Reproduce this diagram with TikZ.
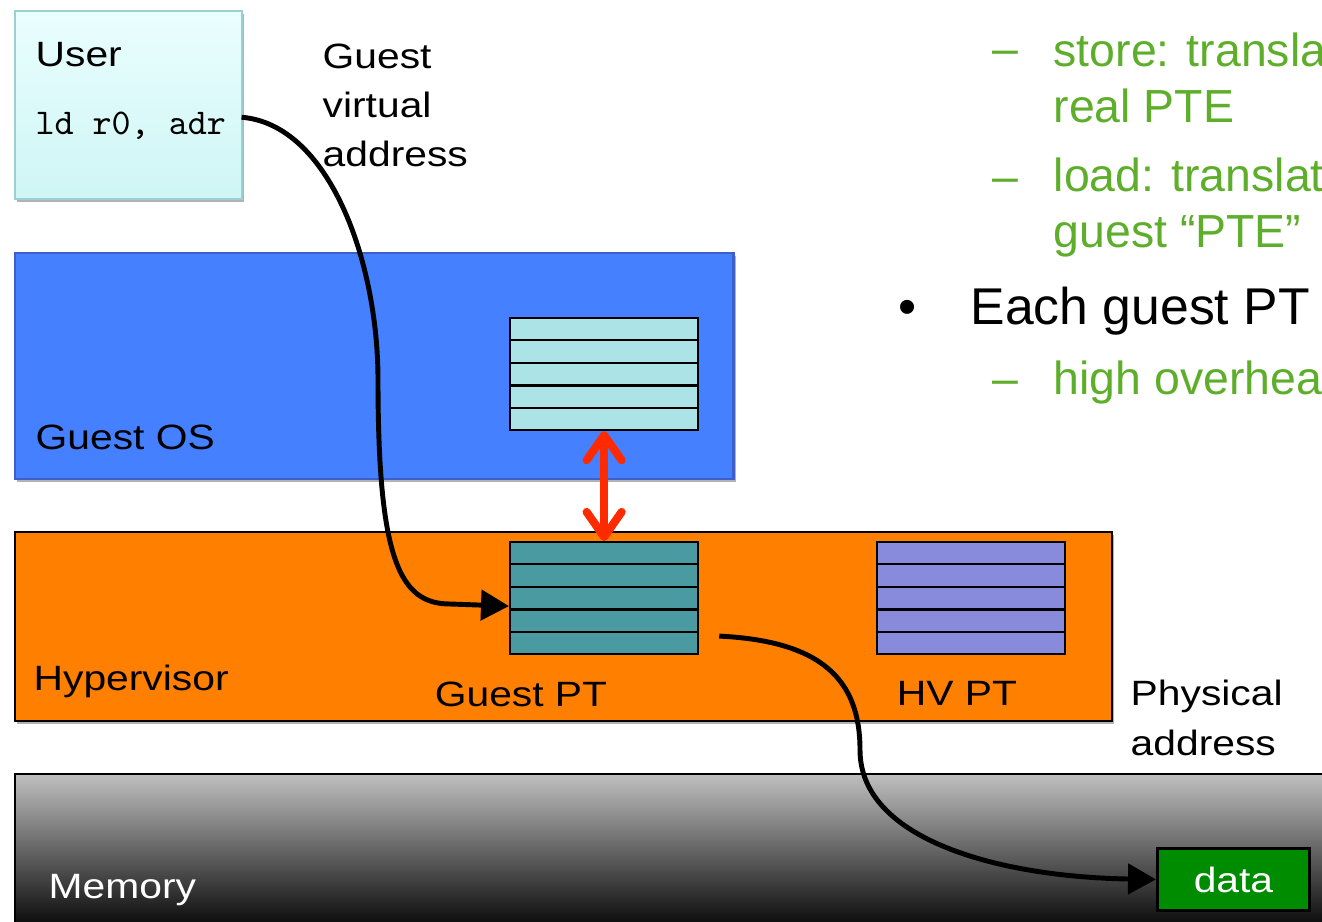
\documentclass[tikz,border=0pt]{standalone}
\usepackage{fontspec}
\setmainfont{Liberation Sans}
\newfontfamily\diagfont{Liberation Sans}[FakeStretch=1.16]
\usetikzlibrary{shapes}
\usetikzlibrary{arrows.meta}
\usetikzlibrary{positioning}
\usetikzlibrary{calc}
\usetikzlibrary{shadows}

\definecolor{usertop}{HTML}{EAFEFE}
\definecolor{userbot}{HTML}{CFF5F5}
\definecolor{userborder}{HTML}{9CCFD0}
\definecolor{osblue}{HTML}{4480FF}
\definecolor{osborder}{HTML}{3F5FC8}
\definecolor{tabcyan}{HTML}{ACE3E6}
\definecolor{tabteal}{HTML}{4A9BA1}
\definecolor{tabpurple}{HTML}{888BDC}
\definecolor{hvorange}{HTML}{FF7F00}
\definecolor{alertred}{HTML}{FF2A00}
\definecolor{datagreen}{HTML}{008C00}
\definecolor{slidegreen}{HTML}{5EAE2B}

\begin{document}
\begin{tikzpicture}[x=0.01cm, y=-0.01cm,
    tier/.style={draw, rectangle, anchor=north west, inner sep=0pt, line width=0.6pt,
                 drop shadow={shadow xshift=0.6pt, shadow yshift=-0.9pt, opacity=0.3, fill=black}},
    ptable/.style={draw, rectangle, anchor=north west, inner sep=0pt, line width=0.6pt,
                   minimum width=1.88cm, minimum height=1.12cm},
    lbl/.style={font=\diagfont\fontsize{10}{14}\selectfont, inner sep=0pt, anchor=base west, align=left},
    bullettext/.style={font=\fontsize{13.2}{16}\selectfont, text=slidegreen, inner sep=0pt,
                       anchor=base west, align=left},
    pathline/.style={line width=1.4pt, -{Triangle[length=2.8mm, width=3mm]}},
    redarrow/.style={draw=alertred, line width=2.3pt, <->,
                     >={Straight Barb[length=2.5mm, width=3.5mm, round]}}]

  \useasboundingbox (0,0) rectangle (1322,922);
  \clip (0,0) rectangle (1322,922);

  % user level
  \node[tier, draw=userborder, top color=usertop, bottom color=userbot,
        minimum width=2.27cm, minimum height=1.88cm] (user) at (14,10) {};
  \node[lbl] (userlbl) at (35,67) {User};
  \node[lbl, font=\ttfamily\fontsize{10.3}{12}\selectfont] (code) at (35,135) {ld r0, adr};
  \node[lbl] (gva) at (322,167) {Guest\\virtual\\address};

  % guest OS
  \node[tier, draw=osborder, fill=osblue, minimum width=7.18cm, minimum height=2.26cm] (guestos) at (14,252) {};
  \node[lbl] (oslbl) at (35,450) {Guest OS};
  \node[ptable, fill=tabcyan] (gvt) at (509,317) {};

  % hypervisor
  \node[tier, fill=hvorange, minimum width=10.96cm, minimum height=1.89cm] (hyper) at (14,531) {};
  \node[lbl] (hvlbl) at (33,690) {Hypervisor};
  \node[ptable, fill=tabteal] (gpt) at (509,541) {};
  \node[ptable, fill=tabpurple] (hvpt) at (876,541) {};
  \node[lbl, anchor=base] (gptlbl) at (521,706) {Guest PT};
  \node[lbl, anchor=base] (hvptlbl) at (957,705) {HV PT};
  \node[lbl] (pa) at (1130,755) {Physical\\address};

  % memory
  \node[tier, top color=black!25, bottom color=black, minimum width=13.3cm, minimum height=1.6cm] (memory) at (14,773) {};
  \node[lbl, text=white] (memlbl) at (48,898) {Memory};
  \node[draw, fill=datagreen, line width=0.8pt, anchor=north west, inner sep=0pt,
        minimum width=1.52cm, minimum height=0.62cm, text=white,
        font=\diagfont\fontsize{10}{12}\selectfont] (data) at (1156,847) {data};

  % table rows
  \foreach \t in {gvt,gpt,hvpt}
    \foreach \i in {1,...,4}
      \draw[line width=0.6pt] ($(\t.north west)!\i/5!(\t.south west)$) -- ($(\t.north east)!\i/5!(\t.south east)$);

  \draw[redarrow] (gvt.south) -- (gpt.north);

  \draw[pathline] ($(code.east)+(15,-9)$) .. controls +(87,7) and (378,260) .. (378,380)
        .. controls (378,560) and (400,604) .. (450,604) -- ($(gpt.west)+(0,8)$);
  \draw[pathline] ($(gpt.east)+(20,38)$) .. controls +(103,5) and (860,680) .. (860,750)
        .. controls (860,840) and (1000,877) .. (data.west);

  % slide text
  \node[bullettext] (d1) at (992,65) {–};
  \node[bullettext] (t1) at (1053,123) {store: transla\\real PTE};
  \node[bullettext] (d2) at (992,193) {–};
  \node[bullettext] (t2) at (1053,248) {load: translat\\guest “PTE”};
  \node[bullettext, text=black, font=\fontsize{14.7}{17}\selectfont] (b3) at (898,325) {•};
  \node[bullettext, text=black, font=\fontsize{14.7}{17}\selectfont] (t3) at (970,325) {Each guest PT};
  \node[bullettext] (d4) at (992,395) {–};
  \node[bullettext] (t4) at (1053,395) {high overhea};

\end{tikzpicture}
\end{document}
